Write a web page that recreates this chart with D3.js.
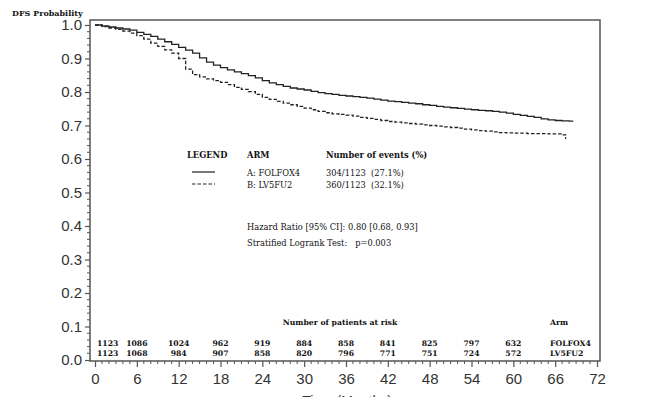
<!DOCTYPE html>
<html>
<head>
<meta charset="utf-8">
<script src="https://cdn.jsdelivr.net/npm/d3@7"></script>
<style>
  body { margin: 0; background: #fff; }
  svg { display: block; }
  .serif { font-family: "DejaVu Serif", "Liberation Serif", serif; fill: #111; }
  .tick text { font-family: "Liberation Sans", Arial, sans-serif; font-size: 15px; fill: #333; }
</style>
</head>
<body>
<svg id="chart" width="650" height="397"></svg>
<script>
// Kaplan-Meier DFS estimates (months -> probability)
var timesA = [0,1,2,3,4,5,6,7,8,9,10,11,12,13,14,15,16,17,18,19,20,21,22,23,24,25,26,27,28,29,30,31,32,33,34,35,36,37,38,39,40,41,42,43,44,45,46,47,48,49,50,51,52,53,54,55,56,57,58,59,60,61,62,63,64,65,66,67,68,68.6];
var survA = [1.000,0.997,0.994,0.991,0.988,0.985,0.978,0.972,0.966,0.958,0.950,0.942,0.933,0.925,0.916,0.902,0.889,0.880,0.873,0.866,0.860,0.855,0.849,0.842,0.834,0.827,0.822,0.817,0.812,0.809,0.806,0.802,0.798,0.795,0.793,0.790,0.788,0.786,0.784,0.782,0.779,0.776,0.773,0.771,0.769,0.767,0.765,0.762,0.760,0.757,0.755,0.753,0.751,0.749,0.747,0.745,0.744,0.742,0.740,0.737,0.733,0.730,0.727,0.724,0.720,0.717,0.715,0.714,0.713,0.713];

var timesB = [0,1,2,3,4,5,6,7,8,9,10,11,12,13,14,15,16,17,18,19,20,21,22,23,24,25,26,27,28,29,30,31,32,33,34,35,36,37,38,39,40,41,42,43,44,45,46,47,48,49,50,51,52,53,54,55,56,57,58,59,60,61,62,63,64,65,66,67,67.5];
var survB = [1.000,0.995,0.991,0.987,0.982,0.976,0.968,0.958,0.946,0.936,0.926,0.916,0.900,0.868,0.852,0.845,0.839,0.834,0.829,0.822,0.814,0.808,0.801,0.793,0.784,0.778,0.772,0.767,0.762,0.757,0.752,0.747,0.742,0.738,0.735,0.733,0.731,0.728,0.724,0.721,0.718,0.715,0.712,0.710,0.708,0.706,0.704,0.702,0.700,0.698,0.696,0.694,0.692,0.689,0.687,0.685,0.683,0.681,0.679,0.678,0.677,0.677,0.676,0.676,0.676,0.675,0.675,0.672,0.660];

// patients at risk
var riskMonths = [0,6,12,18,24,30,36,42,48,54,60];
var riskA = [1123,1086,1024,962,919,884,858,841,825,797,632];
var riskB = [1123,1068,984,907,858,820,796,771,751,724,572];
var armNames = ["FOLFOX4", "LV5FU2"];

// legend texts
var legendArms = ["A: FOLFOX4", "B: LV5FU2"];
var legendEvents = ["304/1123  (27.1%)", "360/1123  (32.1%)"];
var statLines = ["Hazard Ratio [95% CI]: 0.80 [0.68, 0.93]", "Stratified Logrank Test:   p=0.003"];

var xTicks = d3.range(0, 73, 6);
var yTicks = d3.range(0, 1.01, 0.1);

var svg = d3.select("#chart");
var frame = { left: 90, right: 600, top: 20, bottom: 361 };

var x = d3.scaleLinear().domain([0, 72]).range([95, 597]);
var y = d3.scaleLinear().domain([0, 1]).range([360, 25]);

// minor ticks
var gMinor = svg.append("g");
gMinor.selectAll("line.mx")
  .data(d3.range(0, 73, 1).filter(d => d % 6 !== 0))
  .enter().append("line")
  .attr("x1", d => x(d)).attr("x2", d => x(d))
  .attr("y1", frame.bottom).attr("y2", frame.bottom + 3)
  .attr("stroke", "#555").attr("stroke-width", 1);
gMinor.selectAll("line.my")
  .data(d3.range(0, 51, 1).filter(d => d % 5 !== 0).map(d => d / 50))
  .enter().append("line")
  .attr("x1", frame.left).attr("x2", frame.left - 3)
  .attr("y1", d => y(d)).attr("y2", d => y(d))
  .attr("stroke", "#555").attr("stroke-width", 1);

// axes
var xAxis = svg.append("g")
  .attr("transform", `translate(0,${frame.bottom})`)
  .call(d3.axisBottom(x).tickValues(xTicks).tickSize(6).tickPadding(6).tickFormat(d3.format("d")));
xAxis.select(".domain").remove();
xAxis.selectAll(".tick line").attr("stroke", "#555").attr("stroke-width", 1.2);

var yAxis = svg.append("g")
  .attr("transform", `translate(${frame.left},0)`)
  .call(d3.axisLeft(y).tickValues(yTicks).tickSize(5).tickPadding(3).tickFormat(d3.format(".1f")));
yAxis.select(".domain").remove();
yAxis.selectAll(".tick line").attr("stroke", "#555").attr("stroke-width", 1.2);

// frame
svg.append("rect")
  .attr("x", frame.left).attr("y", frame.top)
  .attr("width", frame.right - frame.left).attr("height", frame.bottom - frame.top)
  .attr("fill", "none").attr("stroke", "#555").attr("stroke-width", 1.5);

// curves
var line = d3.line().x(d => x(d[0])).y(d => y(d[1])).curve(d3.curveStepAfter);
svg.append("path")
  .datum(timesA.map((t, i) => [t, survA[i]]))
  .attr("d", line).attr("fill", "none")
  .attr("stroke", "#222").attr("stroke-width", 1.3);
svg.append("path")
  .datum(timesB.map((t, i) => [t, survB[i]]))
  .attr("d", line).attr("fill", "none")
  .attr("stroke", "#222").attr("stroke-width", 1.3)
  .attr("stroke-dasharray", "3.5,2");

// y title
svg.append("text").attr("class", "serif")
  .attr("x", 12).attr("y", 16)
  .attr("font-size", 8).attr("font-weight", "bold")
  .text("DFS Probability");

// x title (mostly cut off at the bottom edge, as in the original)
svg.append("text")
  .attr("x", 347).attr("y", 406)
  .attr("text-anchor", "middle")
  .attr("font-family", "Liberation Sans, Arial, sans-serif")
  .attr("font-size", 14).attr("fill", "#333")
  .text("Time (Months)");

// legend block
var lg = svg.append("g").attr("class", "serif").attr("font-size", 8.3);
lg.append("text").attr("x", 187).attr("y", 158).attr("font-weight", "bold").text("LEGEND");
lg.append("text").attr("x", 247).attr("y", 158).attr("font-weight", "bold").text("ARM");
lg.append("text").attr("x", 326).attr("y", 158).attr("font-weight", "bold").text("Number of events (%)");

var rowY = [176, 188];
lg.selectAll("text.arm").data(legendArms).enter().append("text")
  .attr("x", 247).attr("y", (d, i) => rowY[i]).text(d => d);
lg.selectAll("text.ev").data(legendEvents).enter().append("text")
  .attr("x", 326).attr("y", (d, i) => rowY[i]).attr("xml:space", "preserve").text(d => d);
lg.selectAll("line.sample").data(rowY).enter().append("line")
  .attr("x1", 192).attr("x2", 215)
  .attr("y1", d => d - 4).attr("y2", d => d - 4)
  .attr("stroke", "#222").attr("stroke-width", 1.2)
  .attr("stroke-dasharray", (d, i) => i === 1 ? "3.5,2" : null);

lg.selectAll("text.stat").data(statLines).enter().append("text")
  .attr("x", 247).attr("y", (d, i) => 230 + i * 16)
  .attr("xml:space", "preserve").text(d => d);

// risk table
var rt = svg.append("g").attr("class", "serif").attr("font-size", 7.7).attr("font-weight", "bold");
rt.append("text").attr("x", 340).attr("y", 325).attr("text-anchor", "middle").text("Number of patients at risk");
rt.append("text").attr("x", 550).attr("y", 325).text("Arm");
[riskA, riskB].forEach(function(row, r) {
  rt.selectAll("text.r" + r).data(row).enter().append("text")
    .attr("x", (d, i) => i === 0 ? x(riskMonths[i]) + 2 : x(riskMonths[i]))
    .attr("y", 346 + r * 10)
    .attr("text-anchor", (d, i) => i === 0 ? "start" : "middle")
    .text(d => d);
  rt.append("text").attr("x", 550).attr("y", 346 + r * 10).text(armNames[r]);
});
</script>
</body>
</html>
